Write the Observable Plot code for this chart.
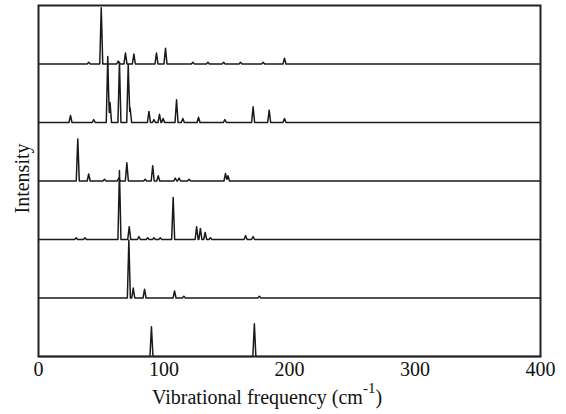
<!DOCTYPE html>
<html><head><meta charset="utf-8">
<script src="https://cdn.jsdelivr.net/npm/d3@7"></script>
<script src="https://cdn.jsdelivr.net/npm/@observablehq/plot@0.6"></script>
<style>body{margin:0;background:#fff}</style>
</head><body><div id="chart"></div>
<script>
const xTicks = [0, 100, 200, 300, 400];
const xLabel = "Vibrational frequency (cm";
const xLabelSup = "-1";
const yLabel = "Intensity";

// spectra, top panel first: peak frequencies (cm^-1) and relative intensities
const freq1 = [40, 50, 63.5, 69.3, 76, 94, 101.2, 123, 135, 147.5, 161, 179, 196];
const int1  = [0.03, 0.96, 0.05, 0.19, 0.17, 0.19, 0.27, 0.03, 0.03, 0.03, 0.03, 0.03, 0.10];
const freq2 = [25.5, 44, 55.2, 57, 64.5, 71.5, 73, 88, 92, 96.4, 99.3, 110, 115, 127.5, 148.5, 171, 183.8, 196];
const int2  = [0.12, 0.05, 1.13, 0.34, 1.03, 0.99, 0.25, 0.19, 0.05, 0.14, 0.07, 0.39, 0.07, 0.09, 0.05, 0.27, 0.21, 0.07];
const freq3 = [31.3, 40, 52.6, 64, 70.4, 85, 91, 95.4, 109, 112, 120, 149, 151];
const int3  = [0.72, 0.12, 0.03, 0.05, 0.31, 0.03, 0.26, 0.09, 0.05, 0.05, 0.03, 0.13, 0.09];
const freq4 = [30, 37, 64.5, 72.3, 80, 87, 92, 97, 107.3, 126, 129, 132.8, 137, 165, 171];
const int4  = [0.03, 0.03, 1.18, 0.22, 0.05, 0.03, 0.03, 0.03, 0.72, 0.22, 0.19, 0.12, 0.03, 0.07, 0.05];
const freq5 = [72, 75.5, 84.5, 108.4, 115.8, 176];
const int5  = [0.99, 0.17, 0.15, 0.12, 0.03, 0.03];
const freq6 = [90, 172];
const int6  = [0.51, 0.56];

const panels = [
  {freq: freq1, int: int1}, {freq: freq2, int: int2}, {freq: freq3, int: int3},
  {freq: freq4, int: int4}, {freq: freq5, int: int5}, {freq: freq6, int: int6}
];

const halfWidth = 1.2;
const rows = [];
panels.forEach((p, i) => {
  const offset = panels.length - 1 - i;
  const xs = new Set([0, 400]);
  p.freq.forEach(f => { xs.add(f - halfWidth); xs.add(f); xs.add(f + halfWidth); });
  [...xs].sort((a, b) => a - b).forEach(x => {
    let v = 0;
    p.freq.forEach((f, k) => {
      v = Math.max(v, p.int[k] * Math.max(0, 1 - Math.abs(x - f) / halfWidth));
    });
    rows.push({panel: i, x, y: offset + v});
  });
});

const serif = "'Liberation Serif', 'Times New Roman', Times, serif";
const chart = Plot.plot({
  width: 566, height: 414,
  marginLeft: 38, marginRight: 26, marginTop: 5, marginBottom: 58,
  style: {fontFamily: serif, fontSize: "20px", color: "#111", background: "#fff"},
  x: {domain: [0, 400]},
  y: {domain: [0, 6], axis: null},
  marks: [
    Plot.line(rows, {x: "x", y: "y", z: "panel", stroke: "#1a1a1a", strokeWidth: 1.5}),
    Plot.frame({stroke: "#222", strokeWidth: 2}),
    Plot.axisX({ticks: xTicks, tickSize: 0, tickPadding: 5, fontSize: 20, label: null, tickFormat: d => String(d)})
  ]
});
document.getElementById("chart").appendChild(chart);

const svg = d3.select(chart);
svg.selectAll("text").style("font-family", serif);
const t = svg.append("text").attr("x", 152).attr("y", 404).attr("text-anchor", "start")
  .attr("font-size", 20).attr("fill", "#111").style("font-family", serif);
t.append("tspan").text(xLabel);
t.append("tspan").attr("font-size", 15).attr("dy", -11).text(xLabelSup);
t.append("tspan").attr("font-size", 20).attr("dy", 11).text(")");
svg.append("text").attr("transform", "translate(28.5,178.5) rotate(-90)")
  .attr("text-anchor", "middle").attr("font-size", 20).attr("fill", "#111")
  .style("font-family", serif).text(yLabel);
</script>
</body></html>
